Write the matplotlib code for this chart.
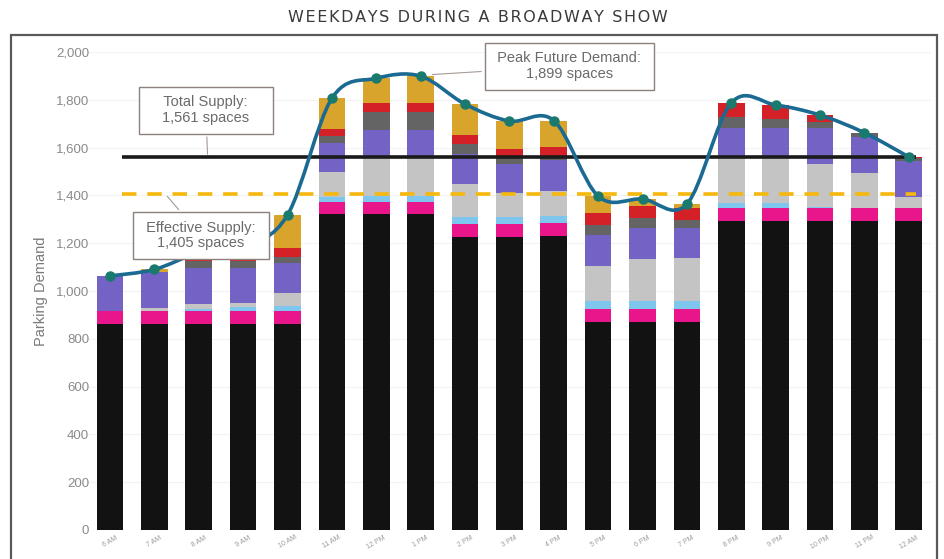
import numpy as np
import matplotlib
matplotlib.use("Agg")
import matplotlib.pyplot as plt
from matplotlib.path import Path
from matplotlib.patches import PathPatch, Rectangle

# ---------------- data ----------------
hours = ["6 AM", "7 AM", "8 AM", "9 AM", "10 AM", "11 AM", "12 PM", "1 PM", "2 PM",
         "3 PM", "4 PM", "5 PM", "6 PM", "7 PM", "8 PM", "9 PM", "10 PM", "11 PM", "12 AM"]

seg_black   = [862, 862, 862, 862, 862, 1322, 1322, 1322, 1227, 1227, 1230, 869, 869, 869, 1293, 1293, 1293, 1293, 1293]
seg_magenta = [54, 54, 54, 54, 54, 52, 52, 52, 53, 53, 53, 56, 56, 56, 53, 53, 53, 53, 53]
seg_ltblue  = [0, 0, 10, 15, 21, 21, 23, 23, 31, 31, 32, 33, 33, 33, 24, 24, 7, 0, 0]
seg_ltgray  = [0, 12, 20, 20, 55, 104, 165, 160, 137, 98, 103, 147, 176, 179, 195, 195, 178, 146, 49]
seg_purple  = [147, 153, 150, 145, 125, 122, 112, 117, 124, 122, 130, 129, 128, 125, 116, 116, 150, 154, 150]
seg_dkgray  = [0, 0, 30, 29, 25, 28, 76, 76, 43, 31, 18, 42, 45, 35, 48, 37, 27, 16, 10]
seg_red     = [0, 0, 10, 9, 38, 29, 38, 38, 38, 31, 38, 49, 49, 49, 58, 60, 28, 0, 6]
seg_gold    = [0, 9, 24, 51, 138, 128, 102, 111, 129, 118, 109, 72, 29, 18, 0, 0, 0, 0, 0]

total_supply = 1561
effective_supply = 1405
peak_demand = 1899

yticks = [0, 200, 400, 600, 800, 1000, 1200, 1400, 1600, 1800, 2000]

segments = [seg_black, seg_magenta, seg_ltblue, seg_ltgray, seg_purple, seg_dkgray, seg_red, seg_gold]
colors = ["#121212", "#e8168a", "#7fc6ee", "#c4c4c4", "#7462c4", "#646464", "#d42127", "#d9a42c"]

# ---------------- figure ----------------
plt.rcParams['font.family'] = ['Liberation Sans', 'DejaVu Sans']
fig = plt.figure(figsize=(9.45, 5.59), dpi=100)
W, H = 945, 559
ax = fig.add_axes([87.8 / W, (H - 530) / H, (931 - 87.8) / W, (530 - 52) / H])

x = np.arange(len(hours))
bottom = np.zeros(len(hours))
for vals, c in zip(segments, colors):
    v = np.array(vals, dtype=float)
    ax.bar(x, v, bottom=bottom, width=0.6, color=c, edgecolor='none', zorder=2)
    bottom += v
totals = bottom

# supply lines
ax.hlines(total_supply, 0.27, 18.17, color="#1a1a1a", lw=2.6, zorder=3)
ax.hlines(effective_supply, 0.27, 18.17, color="#f6b80c", lw=2.6, linestyles=(0, (4, 3)), zorder=3)

# smoothed demand curve (Excel-style Bezier through the totals)
pts = np.column_stack([x, totals])
verts = [tuple(pts[0])]
codes = [Path.MOVETO]
n = len(pts)
for i in range(n - 1):
    p0 = pts[i - 1] if i > 0 else pts[i]
    p1 = pts[i]
    p2 = pts[i + 1]
    p3 = pts[i + 2] if i + 2 < n else pts[i + 1]
    c1 = p1 + (p2 - p0) / 6.0
    c2 = p2 - (p3 - p1) / 6.0
    verts += [tuple(c1), tuple(c2), tuple(p2)]
    codes += [Path.CURVE4] * 3
ax.add_patch(PathPatch(Path(verts, codes), facecolor='none', edgecolor="#1a6a92", lw=2.6, zorder=4))
ax.plot(x, totals, 'o', color="#1b7a6e", ms=6.5, zorder=5)

# annotations
box = dict(boxstyle="square,pad=0.6", fc="white", ec="#8c817c", lw=1.0)
arr = dict(arrowstyle="-", color="#a59a96", lw=0.8)
ax.annotate("    Total Supply:    \n1,561 spaces", xy=(2.2, total_supply), xytext=(2.16, 1757),
            ha='center', va='center', fontsize=10.5, color="#6a6a6a", bbox=box,
            arrowprops=arr, zorder=6, linespacing=1.15)
ax.annotate(" Effective Supply: \n1,405 spaces", xy=(1.25, effective_supply), xytext=(2.05, 1232),
            ha='center', va='center', fontsize=10.5, color="#6a6a6a", bbox=box,
            arrowprops=arr, zorder=6, linespacing=1.1)
ax.annotate(" Peak Future Demand: \n1,899 spaces", xy=(7.2, 1905), xytext=(10.35, 1941),
            ha='center', va='center', fontsize=10.5, color="#6a6a6a", bbox=box,
            arrowprops=arr, zorder=6, linespacing=1.15)

# axes styling
ax.set_xlim(-0.5, len(hours) - 0.5)
ax.set_ylim(0, 2000)
ax.set_yticks(yticks)
ax.set_yticklabels([f"{t:,}" for t in yticks], fontsize=9.5, color="#8a8a8a")
ax.set_xticks(x)
ax.set_xticklabels(hours, rotation=30, fontsize=5, color="#9a9a9a", ha='center')
ax.tick_params(axis='y', length=0, pad=-1)
ax.tick_params(axis='x', length=0, pad=3)
for s in ax.spines.values():
    s.set_visible(False)
ax.yaxis.grid(True, color="#f3f3f3", lw=0.8, zorder=0)
ax.set_axisbelow(True)
ax.set_ylabel("Parking Demand", fontsize=10.5, color="#7a7a7a", labelpad=6)

# outer frame and title
fig.patches.append(Rectangle((11 / W, -0.05), (937 - 11) / W, (H - 35) / H + 0.05,
                             transform=fig.transFigure, fill=False, ec="#5a5a5a", lw=1.6))
title = "WEEKDAYS DURING A BROADWAY SHOW"
fig.text(478 / W, 1 - 18 / H, "\u200a".join(title), ha='center', va='center',
         fontsize=11.5, color="#3a3a3a", family=['DejaVu Sans'])

fig.savefig("out.png", dpi=100)
